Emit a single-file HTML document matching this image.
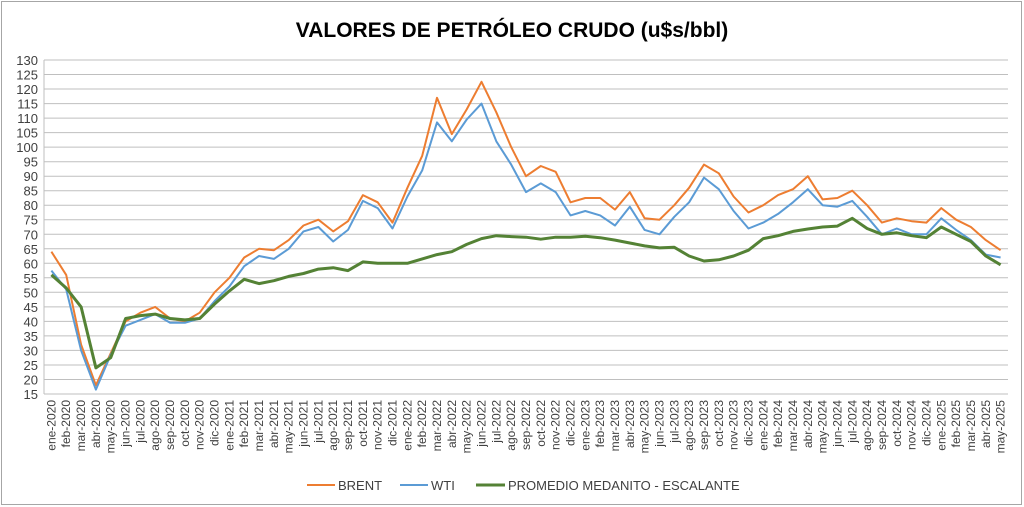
<!DOCTYPE html>
<html><head><meta charset="utf-8"><style>
html,body{margin:0;padding:0;background:#fff;}
svg{display:block;font-family:"Liberation Sans",sans-serif;}
</style></head><body>
<svg id="c" width="1024" height="507" xmlns="http://www.w3.org/2000/svg">
<rect x="1.5" y="1.5" width="1020" height="503" fill="#fff" stroke="#a6a6a6"/>
<text x="512" y="37" text-anchor="middle" font-size="21" font-weight="bold" fill="#000">VALORES DE PETRÓLEO CRUDO (u$s/bbl)</text>
<g id="g"></g>
<line x1="307" y1="485" x2="335" y2="485" stroke="#ed7d31" stroke-width="2"/>
<text x="338" y="490" font-size="13" fill="#404040">BRENT</text>
<line x1="400" y1="485" x2="428" y2="485" stroke="#5b9bd5" stroke-width="2"/>
<text x="431" y="490" font-size="13" fill="#404040">WTI</text>
<line x1="476" y1="485" x2="505" y2="485" stroke="#548235" stroke-width="3"/>
<text x="508" y="490" font-size="13" fill="#404040">PROMEDIO MEDANITO - ESCALANTE</text>
</svg>
<script>
var B=[64,56,32,18,29,40,43,45,41,40,43,50,55,62,65,64.5,68,73,75,71,74.5,83.5,81,74,86,97,117,104.5,113,122.5,112,100,90,93.5,91.5,81,82.5,82.5,78.5,84.5,75.5,75,80,86,94,91,83,77.5,80,83.5,85.5,90,82,82.5,85,80,74,75.5,74.5,74,79,75,72.5,68,64.5];
var W=[57.5,51,30,16.5,28.5,38.5,40.5,42.5,39.5,39.5,41,47,52,59,62.5,61.5,65,71,72.5,67.5,71.5,81.5,79,72,83,92,108.5,102,109.5,115,102,94,84.5,87.5,84.5,76.5,78,76.5,73,79.5,71.5,70,76,81,89.5,85.5,78,72,74,77,81,85.5,80,79.5,81.5,76,70,72,70,70,75.5,71.5,68,63,62];
var P=[56,51.5,45,24,27.5,41,42,42.5,41,40.5,41,46,50.5,54.5,53,54,55.5,56.5,58,58.5,57.5,60.5,60,60,60,61.5,63,64,66.5,68.5,69.5,69.2,69,68.3,69,69,69.3,68.8,68,67,66,65.3,65.5,62.5,60.8,61.2,62.5,64.5,68.5,69.5,71,71.8,72.5,72.8,75.5,72,70,70.5,69.5,68.8,72.5,70,67.5,62.5,59.5];
var m=["ene","feb","mar","abr","may","jun","jul","ago","sep","oct","nov","dic"];
var L=44,R=1008,T=60,Bt=394,n=65,dx=(R-L)/n;
function X(i){return L+dx*(i+0.5);}function Y(v){return Bt-(v-15)*(Bt-T)/115;}
var s="";
for(var v=15;v<=130;v+=5){var y=Y(v).toFixed(1);s+='<line x1="'+L+'" y1="'+y+'" x2="'+R+'" y2="'+y+'" stroke="#bfbfbf" stroke-width="1"/>';s+='<text x="38" y="'+(+y+5)+'" text-anchor="end" font-size="13" fill="#404040">'+v+'</text>';}
s+='<line x1="'+L+'" y1="'+T+'" x2="'+L+'" y2="'+Bt+'" stroke="#bfbfbf"/>';
for(var i=0;i<n;i++){var lab=m[i%12]+"-"+(2020+Math.floor(i/12));var x=X(i)+4;s+='<text transform="translate('+x.toFixed(1)+',400) rotate(-90)" text-anchor="end" font-size="12" fill="#404040">'+lab+'</text>';}
function pl(d,c,w){return '<polyline fill="none" stroke="'+c+'" stroke-width="'+w+'" stroke-linejoin="round" points="'+d.map(function(v,i){return X(i).toFixed(1)+","+Y(v).toFixed(1)}).join(" ")+'"/>';}
s+=pl(B,"#ed7d31",2)+pl(W,"#5b9bd5",2)+pl(P,"#548235",3);
document.getElementById("g").innerHTML=s;
</script>
</body></html>
